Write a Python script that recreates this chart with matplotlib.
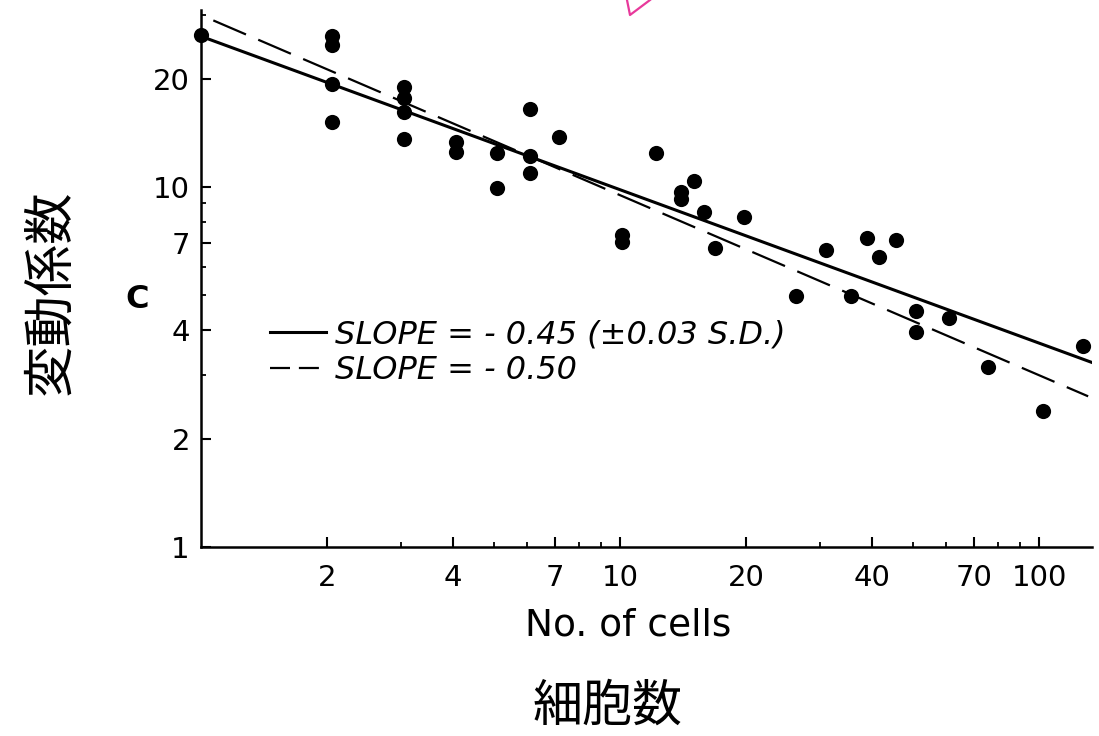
import matplotlib
matplotlib.use('Agg')
import matplotlib.pyplot as plt
import numpy as np
from matplotlib.lines import Line2D
from matplotlib.ticker import FixedLocator, LogLocator, NullFormatter

# data
cells = [1.0, 2.05, 2.05, 2.05, 2.05, 3.05, 3.05, 3.05, 3.05, 4.05, 4.05,
         5.1, 5.1, 6.1, 6.1, 6.1, 7.15, 10.1, 10.1, 12.2, 14.0, 14.0, 15.0,
         15.9, 16.9, 19.8, 26.3, 31.0, 35.5, 38.9, 41.6, 45.5, 50.9, 50.9,
         61.1, 75.7, 102.4, 127.6]
cv = [26.4, 26.3, 24.8, 19.3, 15.1, 18.9, 17.7, 16.1, 13.6, 13.3, 12.5,
      12.4, 9.9, 16.5, 12.2, 10.9, 13.8, 7.35, 7.05, 12.4, 9.7, 9.25, 10.4,
      8.5, 6.76, 8.27, 4.99, 6.68, 4.97, 7.2, 6.38, 7.1, 4.52, 3.96,
      4.33, 3.16, 2.39, 3.62]

# fitted lines as drawn: C = c0 * n ** slope
solid_c0, solid_slope, solid_range = 26.2, -0.426, (1.0, 140.0)
dashed_c0, dashed_slope, dashed_range = 30.0, -0.50, (1.07, 131.0)

x_ticks = [2, 4, 7, 10, 20, 40, 70, 100]
y_ticks = [1, 2, 4, 7, 10, 20]

fig = plt.figure(figsize=(10.99, 7.36), dpi=100)
ax = fig.add_axes([201 / 1099, 1 - 547 / 736, 891 / 1099, 537 / 736])

ax.scatter(cells, cv, s=120, color='black', zorder=3, linewidths=0,
           clip_on=False)

xs = np.array(solid_range)
ax.plot(xs, solid_c0 * xs ** solid_slope, color='black', lw=2.2)
xd = np.array(dashed_range)
ax.plot(xd, dashed_c0 * xd ** dashed_slope, color='black', lw=1.6,
        linestyle=(0, (16, 6)))

ax.set_xscale('log')
ax.set_yscale('log')
ax.set_xlim(1, 133.8)
ax.set_ylim(1, 31.0)

for side in ['top', 'right']:
    ax.spines[side].set_visible(False)
for side in ['left', 'bottom']:
    ax.spines[side].set_linewidth(1.8)

ax.xaxis.set_major_locator(FixedLocator(x_ticks))
ax.set_xticklabels([str(t) for t in x_ticks])
ax.yaxis.set_major_locator(FixedLocator(y_ticks))
ax.set_yticklabels([str(t) for t in y_ticks])
for axis in [ax.xaxis, ax.yaxis]:
    axis.set_minor_locator(LogLocator(base=10, subs=np.arange(2, 10)))
    axis.set_minor_formatter(NullFormatter())

ax.tick_params(which='major', direction='in', length=7, width=1.5, labelsize=21)
ax.tick_params(which='minor', direction='in', length=3.5, width=1.3)
ax.tick_params(axis='y', which='major', pad=8)
ax.tick_params(axis='x', which='major', pad=12)

handles = [Line2D([], [], color='black', lw=2.2),
           Line2D([], [], color='black', lw=1.6, linestyle=(0, (9, 4)))]
labels = ['SLOPE = - 0.45 (±0.03 S.D.)', 'SLOPE = - 0.50']
ax.legend(handles, labels, loc='upper left',
          bbox_to_anchor=((270 - 201) / 891, (547 - 319) / 537),
          frameon=False, handlelength=1.75, handletextpad=0.3,
          labelspacing=0.15, borderpad=0, borderaxespad=0,
          prop={'family': 'DejaVu Sans', 'style': 'italic', 'size': 23})

fig.text(137 / 1099, 1 - 299 / 736, 'C', fontsize=23, fontweight='bold',
         ha='center', va='center')
fig.text(628 / 1099, 1 - 625 / 736, 'No. of cells', fontsize=27,
         ha='center', va='center')
fig.text(608 / 1099, 1 - 707 / 736, '細胞数', fontsize=36,
         family=['Noto Sans CJK JP', 'DejaVu Sans'], ha='center', va='center')
fig.text(50 / 1099, 1 - 292 / 736, '変動係数', fontsize=37, rotation=90,
         family=['Noto Sans CJK JP', 'DejaVu Sans'], ha='center', va='center')

# pink pointer fragment at the top edge
fig.add_artist(Line2D([627 / 1099, 630 / 1099, 650 / 1099],
                      [1.0, 1 - 15 / 736, 1.0],
                      transform=fig.transFigure, color='#e8399b', lw=1.6))

fig.savefig('out.png', dpi=100)
